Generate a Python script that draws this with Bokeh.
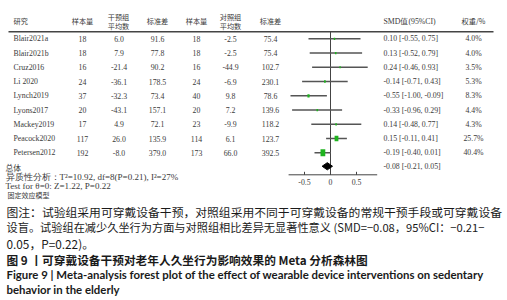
from bokeh.plotting import figure
from bokeh.models import Range1d, ColumnDataSource
from bokeh.core.properties import value
from bokeh.embed import file_html
from bokeh.resources import INLINE
import math

# ---------------- data ----------------
studies = ["Blair2021a", "Blair2021b", "Cruz2016", "Li 2020", "Lynch2019",
           "Lyons2017", "Mackey2019", "Peacock2020", "Petersen2012"]
n_int = [18, 18, 16, 24, 37, 20, 17, 117, 192]
mean_int = [6.0, 7.9, -21.4, -36.1, -32.3, -43.1, 4.9, 26.0, -8.0]
sd_int = [91.6, 77.8, 90.2, 178.5, 73.4, 157.1, 72.1, 135.9, 379.0]
n_ctl = [18, 18, 16, 24, 40, 20, 23, 114, 173]
mean_ctl = [-2.5, -2.5, -44.9, -6.9, 9.8, 7.2, -9.9, 6.1, 66.0]
sd_ctl = [75.4, 75.4, 102.7, 230.1, 78.6, 139.6, 118.2, 123.7, 392.5]
smd = [0.10, 0.13, 0.24, -0.14, -0.55, -0.33, 0.14, 0.15, -0.19]
ci_lo = [-0.55, -0.52, -0.46, -0.71, -1.00, -0.96, -0.48, -0.11, -0.40]
ci_hi = [0.75, 0.79, 0.93, 0.43, -0.09, 0.29, 0.77, 0.41, 0.01]
weight = [4.0, 4.0, 3.5, 5.3, 8.3, 4.4, 4.3, 25.7, 40.4]
pooled = -0.08
pooled_lo = -0.21
pooled_hi = 0.05
axis_ticks = [-0.5, 0, 0.5]
axis_tick_labels = ["-0.5", "0", "0.5"]

headers_single = [("研究", 13, "left"), ("标准差", 157, "center"), ("样本量", 82, "center"),
                  ("样本量", 196, "center"), ("标准差", 270, "center"),
                  ("SMD值(95%CI)", 383, "left"), ("权重/%", 473, "center")]
headers_double = [("干预组", "平均数", 118), ("对照组", "平均数", 230)]

summary_lines = ["总体",
                 "异质性分析：T²=10.92, df=8(P=0.21), I²=27%",
                 "Test for θ=0: Z=1.22, P=0.22",
                 "固定效应模型"]

caption_lines = [
    "图注：试验组采用可穿戴设备干预，对照组采用不同于可穿戴设备的常规干预手段或可穿戴设备",
    "设盲。试验组在减少久坐行为方面与对照组相比差异无显著性意义 (SMD=−0.08，95%CI：−0.21−",
    "0.05，P=0.22)。",
]
title_cn = "图 9 丨可穿戴设备干预对老年人久坐行为影响效果的 Meta 分析森林图"
title_en = ["Figure 9  |  Meta-analysis forest plot of the effect of wearable device interventions on sedentary",
            "behavior in the elderly"]

# ---------------- layout ----------------
W, H = 507, 300
ZERO_PX = 330.0
CI_SCALE = 40.0     # px per SMD unit for study lines
AX_SCALE = 52.0     # px per unit for the drawn axis ticks
ROW0, ROW_STEP = 38.3, 14.25
AXIS_Y = 174.3
SERIF = "Liberation Serif"
CJK = "Noto Sans CJK SC"
TXT = "#3a3a3a"

p = figure(width=W, height=H, x_range=Range1d(0, W), y_range=Range1d(H, 0),
           output_backend="svg", toolbar_location=None, min_border=0,
           x_axis_location=None, y_axis_location=None)
p.xgrid.visible = False
p.ygrid.visible = False
p.outline_line_color = None
p.background_fill_color = "white"
p.border_fill_color = "white"
p.extra_x_ranges = {
    "ci": Range1d(-ZERO_PX / CI_SCALE, (W - ZERO_PX) / CI_SCALE),
    "ax": Range1d(-ZERO_PX / AX_SCALE, (W - ZERO_PX) / AX_SCALE),
}


def txt(x, y, s, font, size, color=TXT, align="left", style="normal"):
    p.text(x=[x], y=[y], text=[s], text_font=value(font),
           text_font_size=value(f"{size}px"), text_color=color,
           text_align=align, text_baseline="middle", text_font_style=style)


# headers
for s, x, a in headers_single:
    txt(x, 20.5, s, CJK if "SMD" not in s else SERIF, 7.2 if "SMD" not in s else 7.8, align=a)
for s1, s2, x in headers_double:
    txt(x, 16.5, s1, CJK, 7.2, align="center")
    txt(x, 25.0, s2, CJK, 7.2, align="center")
p.segment(x0=[8], x1=[493], y0=[31.3], y1=[31.3], line_color="#444444", line_width=1.5)

# table body
rows_y = [ROW0 + ROW_STEP * i for i in range(len(studies))]
src = ColumnDataSource(dict(
    y=rows_y, study=studies,
    n_int=[str(v) for v in n_int], mean_int=[f"{v:.1f}" for v in mean_int],
    sd_int=[f"{v:.1f}" for v in sd_int], n_ctl=[str(v) for v in n_ctl],
    mean_ctl=[f"{v:.1f}" for v in mean_ctl], sd_ctl=[f"{v:.1f}" for v in sd_ctl],
    smd_txt=[f"{s:.2f} [{l:.2f}, {h:.2f}]" for s, l, h in zip(smd, ci_lo, ci_hi)],
    w_txt=[f"{w:.1f}%" for w in weight],
    smd=smd, lo=ci_lo, hi=ci_hi,
    mw=[0.75 * math.sqrt(w) for w in weight],
    mh=[1.1 * math.sqrt(w) for w in weight],
))
cols = [("study", 13, "left"), ("n_int", 82, "center"), ("mean_int", 118.5, "center"),
        ("sd_int", 157, "center"), ("n_ctl", 196, "center"), ("mean_ctl", 230, "center"),
        ("sd_ctl", 270, "center"), ("smd_txt", 383, "left"), ("w_txt", 473, "center")]
for field, x, a in cols:
    p.text(x=x, y="y", text=field, source=src, text_font=value(SERIF),
           text_font_size=value("7.8px"), text_color=TXT, text_align=a,
           text_baseline="middle")

# forest: zero line, CIs, markers
p.segment(x0=[0], x1=[0], y0=[31.3], y1=[AXIS_Y], line_color="#444444", line_width=1,
          x_range_name="ci")
p.segment(x0="lo", x1="hi", y0="y", y1="y", source=src, line_color="#555555",
          line_width=1.5, x_range_name="ci")
p.rect(x="smd", y="y", width="mw", height="mh", width_units="screen", height_units="screen",
       source=src, fill_color="#1fb31f", line_color=None, x_range_name="ci")

# pooled diamond
dy = ROW0 + ROW_STEP * len(studies) - 0.8
p.patch(x=[pooled_lo, pooled, pooled_hi, pooled], y=[dy, dy - 3.6, dy, dy + 3.6],
        fill_color="black", line_color="black", x_range_name="ci")
txt(383, dy, f"{pooled:.2f} [{pooled_lo:.2f}, {pooled_hi:.2f}]", SERIF, 7.8)

# axis (drawn)
p.segment(x0=[-0.806], x1=[0.898], y0=[AXIS_Y], y1=[AXIS_Y], line_color="#444444",
          line_width=1, x_range_name="ax")
p.segment(x0=axis_ticks, x1=axis_ticks, y0=[AXIS_Y - 3] * 3, y1=[AXIS_Y] * 3,
          line_color="#444444", line_width=1, x_range_name="ax")
p.text(x=axis_ticks, y=[181.3] * 3, text=axis_tick_labels, text_font=value(SERIF),
       text_font_size=value("7.8px"), text_color=TXT, text_align="center",
       text_baseline="middle", x_range_name="ax")

# summary text
txt(5, 167.0, summary_lines[0], CJK, 7.8)
txt(5, 176.0, summary_lines[1], SERIF, 9.0)
txt(5, 185.0, summary_lines[2], SERIF, 9.0)
txt(7, 194.0, summary_lines[3], CJK, 7.0)

# caption
caption_sizes = [11.8, 11.2, 11.8]
for i, s in enumerate(caption_lines):
    txt(6, 210.5 + 16 * i, s, CJK, caption_sizes[i], color="#1a1a1a")
txt(6, 258.5, title_cn, CJK, 11.7, color="#1a1a1a", style="bold")
txt(6, 274, title_en[0], "Lato", 11.4, color="#1a1a1a", style="bold")
txt(6, 289, title_en[1], "Lato", 11.4, color="#1a1a1a", style="bold")

open("out.html", "w").write(file_html(p, INLINE))
